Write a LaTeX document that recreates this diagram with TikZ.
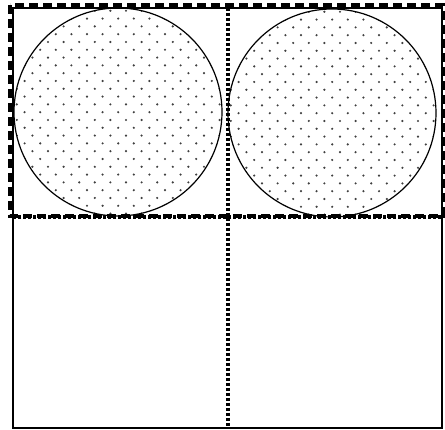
\documentclass[tikz,border=0pt]{standalone}
\begin{document}
\begin{tikzpicture}[x=1pt,y=-1pt,
  outerbox/.style={draw=black,line width=2.6pt},
  topframe/.style={draw=black,line width=3.4pt,dash pattern=on 9pt off 5pt},
  divider/.style={draw=black,line width=3.6pt,dash pattern=on 3pt off 2pt},
  disc/.style={draw=black,line width=1.2pt},
  dotmark/.style={fill=black!75}]
\useasboundingbox (0,0) rectangle (445,430);
% circles with dot fill
\foreach \cx/\cy in {118/112, 332/113}{
  \begin{scope}
    \clip (\cx,\cy) circle (104);
    \foreach \i in {0,...,28}{
      \foreach \j in {0,...,28}{
        \pgfmathtruncatemacro{\dparity}{mod(\i+\j,2)}
        \ifnum\dparity=0
          \fill[dotmark] ({\cx-109+\i*7.8},{\cy-109+\j*7.8}) circle (1.2);
        \fi
      }
    }
  \end{scope}
  \draw[disc] (\cx,\cy) circle (104);
}
% dividers
\draw[divider] (13,217) -- (442,217);
\draw[divider] (228,8) -- (228,428);
% outer box
\draw[outerbox] (13,8) rectangle (442,428);
% dashed top frame
\draw[topframe] (10,5) rectangle (443,216);
\end{tikzpicture}
\end{document}
